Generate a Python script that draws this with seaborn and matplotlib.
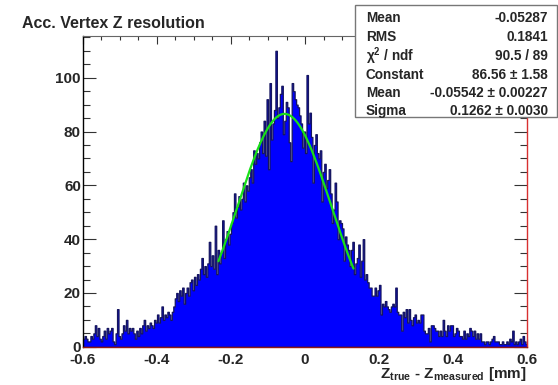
import numpy as np
import pandas as pd
import matplotlib
matplotlib.use("Agg")
import matplotlib.pyplot as plt
import seaborn as sns
from matplotlib.ticker import MultipleLocator, FuncFormatter
from matplotlib.patches import Rectangle

# Histogram binning: 300 bins over [-0.6, 0.6] mm
x_min, x_max, n_bins = -0.6, 0.6, 300

# Entries per bin, left to right
counts = [
    3, 4, 3, 2, 2, 4, 3, 5, 8, 4,
    7, 3, 2, 4, 6, 3, 7, 5, 6, 7,
    2, 1, 5, 14, 4, 3, 5, 8, 6, 10,
    5, 7, 6, 7, 5, 3, 6, 4, 7, 5,
    8, 10, 6, 8, 7, 9, 8, 7, 10, 9,
    12, 9, 11, 15, 10, 12, 11, 13, 12, 10,
    13, 15, 18, 20, 17, 21, 19, 22, 16, 20,
    22, 19, 24, 25, 21, 26, 23, 27, 25, 29,
    33, 27, 30, 26, 31, 39, 30, 34, 29, 45,
    27, 36, 31, 35, 47, 33, 40, 43, 38, 42,
    46, 50, 57, 48, 52, 56, 51, 55, 61, 54,
    60, 58, 63, 66, 61, 73, 68, 72, 70, 76,
    80, 72, 84, 71, 92, 66, 98, 77, 83, 88,
    110, 85, 89, 94, 97, 79, 84, 91, 89, 76,
    69, 98, 95, 92, 90, 89, 86, 83, 74, 80,
    72, 101, 83, 87, 78, 61, 75, 79, 72, 70,
    73, 54, 65, 68, 59, 62, 66, 57, 46, 51,
    61, 54, 40, 47, 46, 44, 32, 41, 38, 36,
    30, 36, 39, 27, 31, 33, 38, 26, 32, 40,
    25, 27, 24, 22, 22, 19, 19, 22, 19, 21,
    23, 12, 16, 15, 17, 15, 14, 13, 15, 16,
    15, 22, 13, 12, 12, 6, 13, 11, 14, 9,
    14, 10, 8, 11, 12, 9, 10, 9, 12, 12,
    6, 5, 5, 7, 2, 8, 8, 7, 6, 6,
    4, 6, 4, 10, 6, 4, 8, 6, 8, 8,
    4, 5, 7, 6, 4, 4, 3, 6, 3, 5,
    4, 7, 6, 4, 6, 3, 5, 3, 5, 2,
    2, 1, 2, 2, 1, 2, 3, 4, 2, 2,
    2, 1, 1, 2, 1, 1, 2, 1, 3, 2,
    6, 1, 2, 1, 2, 3, 1, 4, 2, 1,
]

# Gaussian fit result and its range
fit_constant, fit_mean, fit_sigma = 86.56, -0.05542, 0.1262
fit_lo, fit_hi = -0.234, 0.131

# Statistics box contents
stat_names = ["Mean", "RMS", "χ$^{2}$ / ndf", "Constant", "Mean", "Sigma"]
stat_values = ["-0.05287", "0.1841", "90.5 / 89", "86.56 ± 1.58",
               "-0.05542 ± 0.00227", "0.1262 ± 0.0030"]

title = "Acc. Vertex Z resolution"
xlabel = r"Z$_{\rm true}$ - Z$_{\rm measured}$ [mm]"

sns.set_style("ticks")
plt.rcParams["font.family"] = ["Liberation Sans", "DejaVu Sans"]
plt.rcParams["font.weight"] = "bold"
plt.rcParams["mathtext.fontset"] = "custom"
plt.rcParams["mathtext.rm"] = "Liberation Sans:bold"
plt.rcParams["mathtext.it"] = "Liberation Sans:bold:italic"
plt.rcParams["mathtext.bf"] = "Liberation Sans:bold"
plt.rcParams["mathtext.default"] = "rm"

W, H = 558, 385
fig = plt.figure(figsize=(W / 100, H / 100), dpi=100)
fig.patch.set_facecolor("white")

left, right, top, bottom = 83, 527, 36, 346.8
ax = fig.add_axes([left / W, 1 - bottom / H, (right - left) / W, (bottom - top) / H])
ax.set_facecolor("white")

bin_width = (x_max - x_min) / n_bins
centers = x_min + bin_width * (np.arange(n_bins) + 0.5)
df = pd.DataFrame({"z": centers, "n": counts})

sns.histplot(data=df, x="z", weights="n", bins=n_bins, binrange=(x_min, x_max),
             element="step", fill=True, facecolor="#0000ff", edgecolor="#15155e",
             linewidth=0.9, alpha=1.0, ax=ax)

xf = np.linspace(fit_lo, fit_hi, 300)
yf = fit_constant * np.exp(-0.5 * ((xf - fit_mean) / fit_sigma) ** 2)
sns.lineplot(x=xf, y=yf, color="#18e018", linewidth=1.6, ax=ax)

ax.set_xlim(x_min, x_max)
ax.set_ylim(0, 1.05 * max(counts))
ax.set_xlabel("")
ax.set_ylabel("")

ax.xaxis.set_major_locator(MultipleLocator(0.2))
ax.xaxis.set_minor_locator(MultipleLocator(0.05))
ax.yaxis.set_major_locator(MultipleLocator(20))
ax.yaxis.set_minor_locator(MultipleLocator(5))
ax.xaxis.set_major_formatter(FuncFormatter(lambda v, p: "0" if abs(v) < 1e-9 else f"{v:g}"))
ax.yaxis.set_major_formatter(FuncFormatter(lambda v, p: f"{v:.0f}"))

ax.tick_params(axis="x", which="major", direction="in", length=5.8, width=0.8,
               color="#333333", top=True, bottom=True, labelsize=11, pad=4.5)
ax.tick_params(axis="x", which="minor", direction="in", length=2.9, width=0.8,
               color="#333333", top=True, bottom=True)
ax.tick_params(axis="y", which="major", direction="in", length=9.4, width=0.8,
               color="#333333", left=True, right=True, labelsize=11, pad=1.5)
ax.tick_params(axis="y", which="minor", direction="in", length=5.0, width=0.8,
               color="#333333", left=True, right=True)
for lab in ax.get_xticklabels() + ax.get_yticklabels():
    lab.set_fontweight("bold")

ax.spines["left"].set_color("black")
ax.spines["left"].set_linewidth(1.0)
ax.spines["top"].set_color("#666666")
ax.spines["top"].set_linewidth(0.8)
ax.spines["bottom"].set_color("#901818")
ax.spines["bottom"].set_linewidth(1.0)
ax.spines["right"].set_color("#d83030")
ax.spines["right"].set_linewidth(1.0)

fig.text(22 / W, 1 - 27.5 / H, title, fontsize=11.5, fontweight="bold",
         ha="left", va="baseline")
fig.text(right / W, 1 - 378 / H, xlabel, fontsize=11, fontweight="bold",
         ha="right", va="baseline")

# Statistics box
bx0, bx1, by0, by1 = 355, 557, 5, 117
fig.patches.append(Rectangle((bx0 / W, 1 - by1 / H), (bx1 - bx0) / W, (by1 - by0) / H,
                             transform=fig.transFigure, facecolor="white",
                             edgecolor="#777777", linewidth=1.0, zorder=10))
row_y = [18, 37, 56, 75, 93, 111]
for name, val, yy in zip(stat_names, stat_values, row_y):
    fig.text(366 / W, 1 - yy / H, name, fontsize=9.8, fontweight="bold",
             ha="left", va="center", zorder=11)
    fig.text(548 / W, 1 - yy / H, val, fontsize=9.8, fontweight="bold",
             ha="right", va="center", zorder=11)

fig.savefig("out.png", dpi=100)
